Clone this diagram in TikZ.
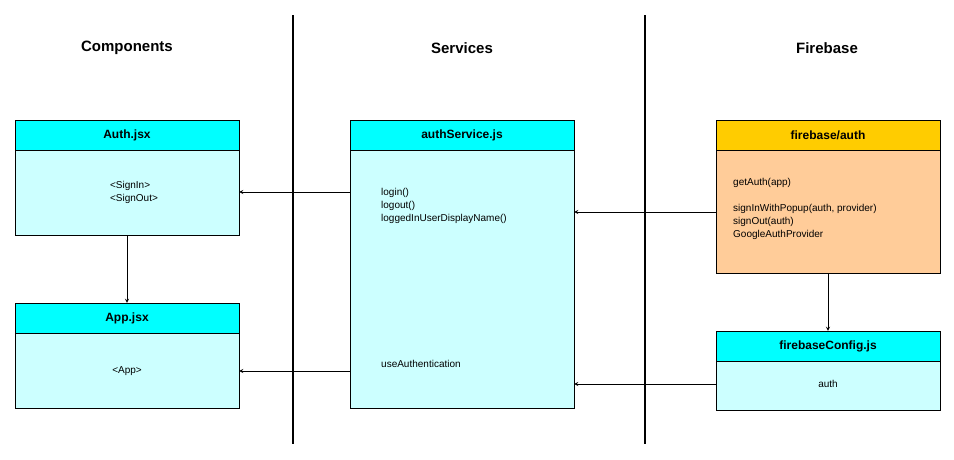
\documentclass[tikz,border=0pt]{standalone}
\usepackage{fontspec}
\setmainfont{Liberation Sans}
\usetikzlibrary{positioning}
\definecolor{headcyan}{HTML}{00FFFF}
\definecolor{bodycyan}{HTML}{CCFFFF}
\definecolor{headgold}{HTML}{FFCC00}
\definecolor{bodypeach}{HTML}{FFCC99}
\begin{document}
\begin{tikzpicture}[x=1pt,y=-1pt,
	title/.style={font=\fontsize{15}{18}\selectfont\bfseries},
	head/.style={draw=black,fill=headcyan,minimum width=224pt,minimum height=30pt,inner sep=0pt,font=\fontsize{12}{14}\selectfont\bfseries},
	body/.style={draw=black,fill=bodycyan,minimum width=224pt,inner sep=0pt,anchor=north},
	txt/.style={font=\fontsize{10}{13}\selectfont,align=left,inner sep=0pt},
	link/.style={->,>=stealth,thick,line width=0.8pt}]
	\useasboundingbox (0,0) rectangle (954,459);
	\draw[line width=1.5pt] (293,15) -- (293,444);
	\draw[line width=1.5pt] (645,15) -- (645,444);
	\node[title] at (127,48) {Components};
	\node[title] at (462,48) {Services};
	\node[title] at (827,48) {Firebase};
	% components
	\node[head] (authhead) at (127,135) {Auth.jsx};
	\node[body,minimum height=85pt] (authbody) at (authhead.south) {};
	\node[txt] (authtxt) at (134,192) {<SignIn>\\<SignOut>};
	\node[head] (apphead) at (127,318) {App.jsx};
	\node[body,minimum height=75pt] (appbody) at (apphead.south) {};
	\node[txt] (apptxt) at (127,371) {<App>};
	% services
	\node[head] (svchead) at (462,135) {authService.js};
	\node[body,minimum height=258pt] (svcbody) at (svchead.south) {};
	\node[txt,anchor=north west] (svctxt) at (381,188) {login()\\logout()\\loggedInUserDisplayName()};
	\node[txt,anchor=west] (svcuse) at (381,364) {useAuthentication};
	% firebase
	\node[head,fill=headgold] (fbhead) at (828,135) {firebase/auth};
	\node[body,fill=bodypeach,minimum height=123pt] (fbbody) at (fbhead.south) {};
	\node[txt,anchor=north west] (fbtxt) at (733,178) {getAuth(app)\\[13pt]signInWithPopup(auth, provider)\\signOut(auth)\\GoogleAuthProvider};
	\node[head] (cfghead) at (828,346) {firebaseConfig.js};
	\node[body,minimum height=49pt] (cfgbody) at (cfghead.south) {};
	\node[txt] (cfgtxt) at (828,384) {auth};
	\coordinate (r1) at (0,192);
	\coordinate (r2) at (0,371);
	\coordinate (r3) at (0,212);
	\coordinate (r4) at (0,384);
	% connectors
	\draw[link] (svcbody.west |- r1) -- (authbody.east |- r1);
	\draw[link] (svcbody.west |- r2) -- (appbody.east |- r2);
	\draw[link] (fbbody.west |- r3) -- (svcbody.east |- r3);
	\draw[link] (cfgbody.west |- r4) -- (svcbody.east |- r4);
	\draw[link] (authbody.south) -- (apphead.north);
	\draw[link] (fbbody.south) -- (cfghead.north);
\end{tikzpicture}
\end{document}
